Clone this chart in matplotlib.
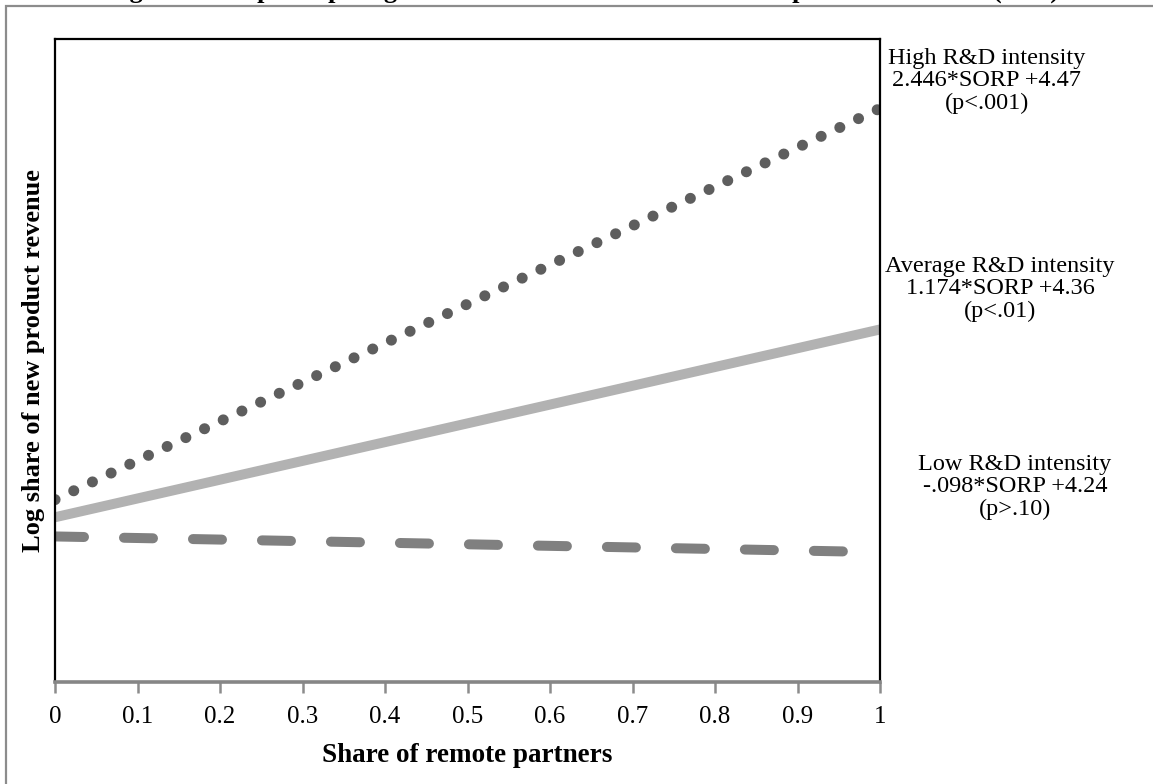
import matplotlib
matplotlib.use("Agg")
import matplotlib.pyplot as plt
from matplotlib.patches import Rectangle
import numpy as np

# Data
x_vals = [0.0, 1.0]
series_names = ["High R&D intensity", "Average R&D intensity", "Low R&D intensity"]
slopes = [2.446, 1.174, -0.098]
intercepts = [4.47, 4.36, 4.24]
p_labels = ["(p<.001)", "(p<.01)", "(p>.10)"]
eq_labels = ["2.446*SORP +4.47", "1.174*SORP +4.36", "-.098*SORP +4.24"]
x_ticks = [0, 0.1, 0.2, 0.3, 0.4, 0.5, 0.6, 0.7, 0.8, 0.9, 1]
x_tick_labels = ["0", "0.1", "0.2", "0.3", "0.4", "0.5", "0.6", "0.7", "0.8", "0.9", "1"]

plt.rcParams['font.family'] = ['Liberation Serif', 'DejaVu Serif']

W, H = 1153, 784
fig = plt.figure(figsize=(W / 100, H / 100), dpi=100)

# outer gray frame (extends beyond right/bottom edges)
fig.patches.append(Rectangle((6 / W, -0.05), 1.2, 1 - 6 / H + 0.05, transform=fig.transFigure,
                             fill=False, edgecolor='#8c8c8c', linewidth=1.6))

# cut-off title
fig.text(583 / W, 1 + 2.5 / H,
         "Figure 3. Simple slope regression models on the share of new product revenues (H3b)",
         ha='center', va='baseline', fontsize=19, fontweight='bold')

left, right, top, bottom = 55, 880, 39, 682
ax = fig.add_axes([left / W, 1 - bottom / H, (right - left) / W, (bottom - top) / H])

xs = np.array(x_vals)
styles = [
    dict(color='#5e5e5e', linewidth=11 * 0.72, linestyle=(0, (0.01, 1.87)),
         dash_capstyle='round'),
    dict(color='#b2b2b2', linewidth=10 * 0.72, linestyle='-', solid_capstyle='butt'),
    dict(color='#808080', linewidth=10 * 0.72, linestyle=(0, (2.9, 4.0)),
         dash_capstyle='round'),
]
for s, b, st in zip(slopes, intercepts, styles):
    ax.plot(xs, s * xs + b, **st)

ax.set_xlim(0, 1)
ax.set_ylim(3.33, 7.35)
ax.set_xticks(x_ticks)
ax.set_xticklabels(x_tick_labels, fontsize=18)
ax.set_yticks([])
ax.tick_params(axis='x', direction='out', length=8, width=1.8, color='#8c8c8c', pad=9)

for side in ['left', 'top', 'right']:
    ax.spines[side].set_color('black')
    ax.spines[side].set_linewidth(1.6)
ax.spines['bottom'].set_color('#868686')
ax.spines['bottom'].set_linewidth(2.6)

ax.set_xlabel("Share of remote partners", fontsize=19.5, fontweight='bold', labelpad=11)
ax.set_ylabel("Log share of new product revenue", fontsize=19, fontweight='bold', labelpad=7)

# right-side annotations
ann_pos = [(987, 81), (1000, 289), (1015, 487)]
for name, eq, p, (px, py) in zip(series_names, eq_labels, p_labels, ann_pos):
    fig.text(px / W, 1 - py / H, f"{name}\n{eq}\n{p}", ha='center', va='center',
             fontsize=17.5, linespacing=1.08)

fig.savefig("out.png", dpi=100)
